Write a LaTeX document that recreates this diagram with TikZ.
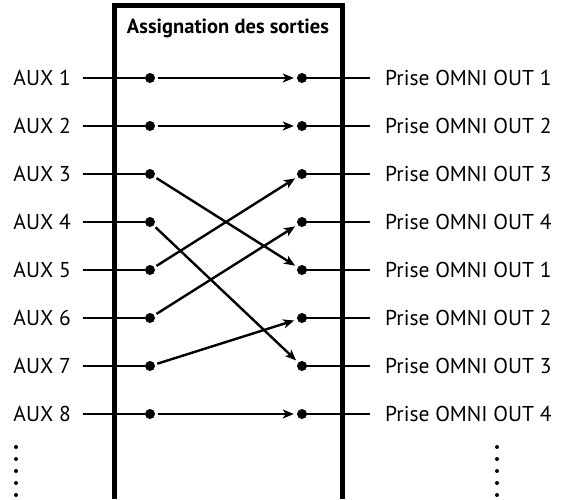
\documentclass[tikz,border=0pt]{standalone}
\usepackage{fontspec}
\setmainfont{PT Sans}
\usetikzlibrary{arrows.meta}
\begin{document}
\begin{tikzpicture}[x=1pt,y=-1pt,
  dotnode/.style={circle,fill=black,inner sep=0pt,minimum size=10pt},
  lbl/.style={font=\fontsize{21.5}{24}\selectfont,inner sep=0pt},
  wire/.style={line width=2.4pt},
  route/.style={line width=2.4pt,-{Stealth[length=11pt,width=9pt,inset=3pt]},shorten <=2.5pt,shorten >=3pt},
  frame/.style={line width=5pt},
  vdot/.style={circle,fill=black,inner sep=0pt,minimum size=4pt}]
\useasboundingbox (0,0) rectangle (563,499);
\draw[frame] (114,499) -- (114,5) -- (342,5) -- (342,499);
\node[lbl,font=\fontsize{20.5}{24}\selectfont\bfseries] (title) at (228,28) {Assignation des sorties};
\foreach \i/\o in {1/1,2/2,3/3,4/4,5/1,6/2,7/3,8/4}{
  \pgfmathsetmacro{\yy}{78+48*(\i-1)}
  \node[lbl,anchor=east] (aux\i) at (71,\yy) {AUX \i};
  \node[lbl,anchor=west] (out\i) at (385,\yy) {Prise OMNI OUT \o};
  \node[dotnode] (l\i) at (150,\yy) {};
  \node[dotnode] (r\i) at (302,\yy) {};
  \coordinate (ls\i) at (83,\yy);
  \coordinate (re\i) at (370,\yy);
  \draw[wire] (ls\i) -- (l\i.center);
  \draw[wire] (r\i.center) -- (re\i);
}
\draw[route] (l1) -- (r1);
\draw[route] (l2) -- (r2);
\draw[route] (l3) -- (r5);
\draw[route] (l4) -- (r7);
\draw[route] (l5) -- (r3);
\draw[route] (l6) -- (r4);
\draw[route] (l7) -- (r6);
\draw[route] (l8) -- (r8);
\foreach \k in {0,...,4}{
  \node[vdot] (vl\k) at (16,447+12*\k) {};
  \node[vdot] (vr\k) at (497,447+12*\k) {};
}
\end{tikzpicture}
\end{document}
